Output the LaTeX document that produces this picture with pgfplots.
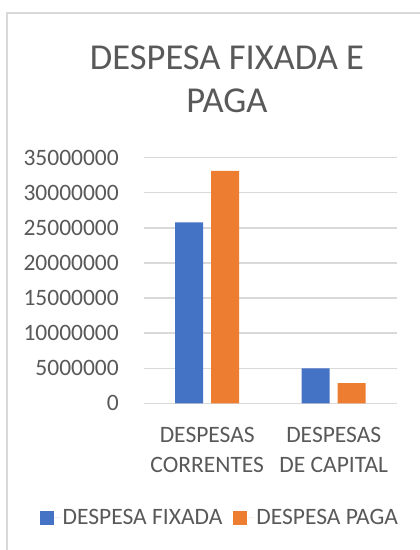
\documentclass[border=0pt]{standalone}
\usepackage{pgfplots}
\pgfplotsset{compat=1.18}
\usepackage{fontspec}
\setmainfont{Carlito}
\definecolor{cblue}{HTML}{4472C4}
\definecolor{corange}{HTML}{ED7D31}
\definecolor{ctext}{HTML}{595959}
\definecolor{cgrid}{HTML}{D9D9D9}
\begin{document}
\begin{tikzpicture}[x=1pt,y=1pt]
\path[use as bounding box, fill=white] (0,0) rectangle (420,550);
\draw[cgrid, line width=1.2pt] (7,0) -- (7,537) -- (420,537);
\node[anchor=base, align=center, text=ctext, font=\fontsize{36.5}{43}\selectfont, inner sep=0pt] at (227,437) {DESPESA FIXADA E\\PAGA};
\begin{axis}[
  at={(144pt,146.7pt)}, anchor=south west,
  scale only axis, width=253pt, height=245.6pt,
  ymin=0, ymax=35000000,
  ytick={0,5000000,10000000,15000000,20000000,25000000,30000000,35000000},
  xmin=-0.5, xmax=1.5, xtick={0,1},
  xticklabels={{DESPESAS\\CORRENTES},{DESPESAS\\DE CAPITAL}},
  axis line style={draw=none},
  major tick length=0pt,
  ymajorgrids, grid style={cgrid, line width=1.3pt},
  scaled y ticks=false,
  /pgf/number format/fixed,
  /pgf/number format/1000 sep={},
  /pgf/number format/assume math mode=true,
  tick label style={text=ctext, font=\fontsize{23.5}{28}\selectfont},
  yticklabel style={anchor=east, inner sep=0pt, xshift=-25pt},
  xticklabel style={align=center, anchor=north, inner sep=0pt, yshift=-24pt, font=\fontsize{23.5}{30}\selectfont},
  ybar=8pt, bar width=28pt,
  legend style={draw=none, fill=none, at={(0.300,-0.467)}, anchor=center, legend columns=2,
    font=\fontsize{23.5}{28}\selectfont, text=ctext,
    /tikz/every even column/.append style={column sep=9pt}},
  legend image code/.code={\fill[#1] (0pt,-7pt) rectangle (14pt,7pt); \path (14pt,0pt) -- (21pt,0pt);},
]
\addplot[fill=cblue, draw=none] coordinates {(0,25780000) (1,4990000)};
\addplot[fill=corange, draw=none] coordinates {(0,33130000) (1,2890000)};
\legend{DESPESA FIXADA, DESPESA PAGA}
\end{axis}
\end{tikzpicture}
\end{document}
